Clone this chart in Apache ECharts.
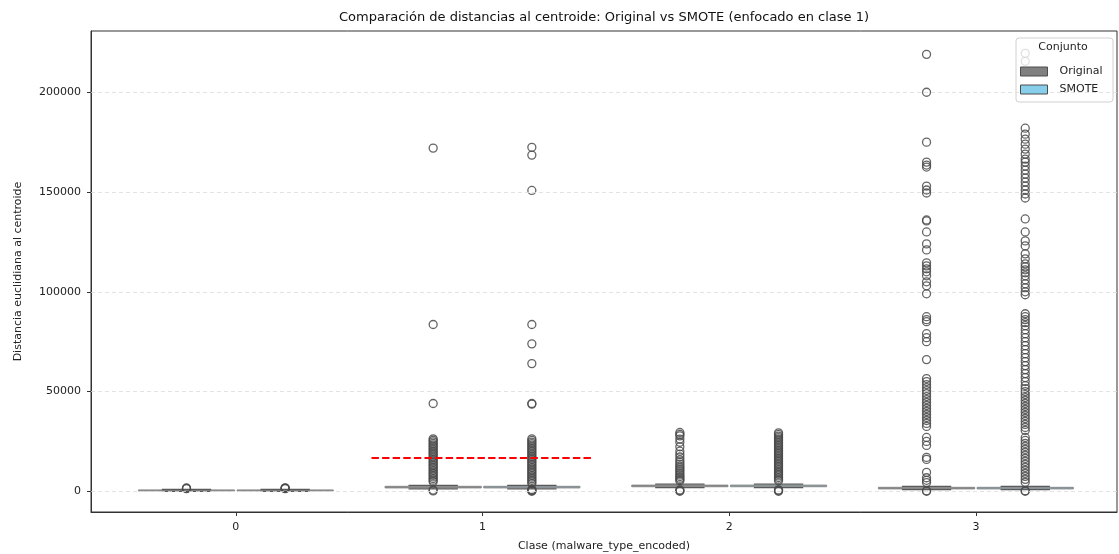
<!DOCTYPE html>
<html><head><meta charset="utf-8">
<script src="https://cdn.jsdelivr.net/npm/echarts@6/dist/echarts.min.js"></script>
<style>html,body{margin:0;padding:0;background:#fff}#c{width:1119px;height:554px}</style>
</head><body><div id="c"></div>
<script>
// ---------- data ----------
const categories = ['0', '1', '2', '3'];
const conjuntos = ['Original', 'SMOTE'];
const yTicks = [0, 50000, 100000, 150000, 200000];
// [whisker low, Q1, median, Q3, whisker high] per class
const boxOriginal = [[0, 200, 400, 700, 1000], [1200, 1700, 2100, 2500, 3000], [1800, 2300, 2700, 3100, 3600], [800, 1200, 1600, 2000, 2500]];
const boxSMOTE = [[0, 200, 400, 700, 1000], [1200, 1700, 2100, 2500, 3000], [1800, 2300, 2700, 3100, 3600], [800, 1200, 1600, 2000, 2500]];

const outOriginal0 = [1300, 1500, 1700];
const outSMOTE0 = [1300, 1450, 1600, 1750];
const outOriginal1 = [172000, 83600, 44000, 26300, 25600, 24800, 24000, 23200, 22400, 21600, 20800, 20000, 19200, 18400, 17600, 16800, 16000, 15200, 14400, 13600, 12800, 12000, 11200, 10400, 9600, 8800, 8000, 7200, 6400, 5600, 4800, 600, 200];
const outSMOTE1 = [172400, 168500, 150800, 83600, 73900, 64000, 44000, 43700, 26300, 25500, 24700, 23900, 23100, 22300, 21500, 20700, 19900, 19100, 18300, 17500, 16700, 15900, 15100, 14300, 13500, 12700, 11900, 11100, 10300, 9500, 8700, 7900, 7100, 6300, 5500, 4700, 3900, 900, 600, 300, 0];
const outOriginal2 = [29500, 28600, 27800, 26200, 24600, 22300, 20100, 18600, 17200, 15800, 14700, 13600, 12600, 11700, 10800, 9900, 9000, 8200, 7400, 6600, 5900, 5300, 700, 300, 0];
const outSMOTE2 = [29300, 28500, 27700, 26900, 26100, 25300, 24500, 23700, 22900, 22100, 21300, 20500, 19700, 18900, 18100, 17300, 16500, 15700, 14900, 14100, 13300, 12500, 11700, 10900, 10100, 9300, 8500, 7700, 6900, 6100, 5300, 700, 350, 0];
const outOriginal3 = [219000, 200000, 175000, 165000, 163500, 162500, 153000, 151000, 149500, 136000, 135500, 130000, 124000, 121000, 114500, 113000, 111500, 110000, 108000, 105000, 103000, 99000, 87500, 86000, 85000, 79000, 77000, 75000, 66000, 56500, 55000, 53500, 52000, 50500, 49000, 47500, 46000, 44500, 43000, 41500, 40000, 38500, 37000, 35500, 34000, 32500, 27000, 25000, 23000, 17000, 16000, 9500, 6800, 5500, 4400, 300, 0];
const outSMOTE3 = [219500, 215500, 182000, 179000, 176500, 174000, 171500, 169000, 166500, 165000, 163000, 161000, 159000, 157000, 155000, 153000, 151000, 149000, 147000, 136500, 130000, 125500, 123000, 119000, 116500, 114000, 112500, 111000, 109500, 108000, 106000, 104000, 102000, 100000, 98500, 89000, 87500, 86000, 84500, 83000, 81000, 79000, 77000, 75000, 73000, 71000, 69000, 67000, 65000, 63000, 61000, 59000, 57000, 55000, 53000, 51500, 50000, 48500, 47000, 45500, 44000, 42500, 41000, 39500, 38000, 36500, 35000, 33500, 32000, 30500, 27000, 25500, 24000, 22500, 21000, 19500, 18000, 16500, 15000, 13500, 12000, 10500, 9000, 7500, 6000, 4500, 300, 0];
const umbralClase1 = [16700];

// ---------- layout / style constants ----------
const hueOffset = [-0.2, 0.2];
const boxHalf = 0.195;
const capHalf = 0.1;
const FONT = 'DejaVu Sans';
const outliersOriginal = [outOriginal0, outOriginal1, outOriginal2, outOriginal3];
const outliersSMOTE = [outSMOTE0, outSMOTE1, outSMOTE2, outSMOTE3];

function boxSeries(name, boxes, hue, fill) {
  return {
    type: 'custom', name: name, z: 3,
    itemStyle: { color: fill },
    data: boxes.map((b, i) => [i].concat(b)),
    encode: { x: 0, y: [1, 2, 3, 4, 5] },
    renderItem: function (params, api) {
      const c = api.value(0) + hueOffset[hue];
      const lo = api.value(1), q1 = api.value(2), md = api.value(3), q3 = api.value(4), hi = api.value(5);
      const a = api.coord([c - boxHalf, q3]);
      const b = api.coord([c + boxHalf, q1]);
      const m1 = api.coord([c - boxHalf, md]), m2 = api.coord([c + boxHalf, md]);
      const pLo = api.coord([c, lo]), pQ1 = api.coord([c, q1]), pQ3 = api.coord([c, q3]), pHi = api.coord([c, hi]);
      const cl1 = api.coord([c - capHalf, lo]), cl2 = api.coord([c + capHalf, lo]);
      const ch1 = api.coord([c - capHalf, hi]), ch2 = api.coord([c + capHalf, hi]);
      const ls = { stroke: '#5a5a5a', lineWidth: 1.3 };
      return { type: 'group', children: [
        { type: 'rect', shape: { x: a[0], y: a[1], width: b[0] - a[0], height: b[1] - a[1] },
          style: { fill: fill, stroke: '#8a8a8a', lineWidth: 1 } },
        { type: 'line', shape: { x1: m1[0], y1: m1[1], x2: m2[0], y2: m2[1] }, style: { stroke: '#8a8a8a', lineWidth: 1 } },
        { type: 'line', shape: { x1: pLo[0], y1: pLo[1], x2: pQ1[0], y2: pQ1[1] }, style: ls },
        { type: 'line', shape: { x1: pQ3[0], y1: pQ3[1], x2: pHi[0], y2: pHi[1] }, style: ls },
        { type: 'line', shape: { x1: cl1[0], y1: cl1[1], x2: cl2[0], y2: cl2[1] }, style: ls },
        { type: 'line', shape: { x1: ch1[0], y1: ch1[1], x2: ch2[0], y2: ch2[1] }, style: ls }
      ] };
    }
  };
}

function outlierSeries(name, lists, hue) {
  const data = [];
  lists.forEach((vals, i) => vals.forEach(v => data.push([i + hueOffset[hue], v])));
  return {
    type: 'scatter', name: name, z: 4, symbol: 'circle', symbolSize: 8,
    itemStyle: { color: 'rgba(0,0,0,0)', borderColor: '#4a4a4a', borderWidth: 1.3, opacity: 0.85 },
    emphasis: { disabled: true },
    data: data
  };
}

const chart = echarts.init(document.getElementById('c'), null, { renderer: 'canvas' });
const option = {
  animation: false,
  backgroundColor: '#fff',
  textStyle: { fontFamily: FONT },
  grid: { left: 91, right: 2, top: 31, bottom: 42, show: true, borderColor: '#333', borderWidth: 1, containLabel: false, outerBoundsMode: 'none' },
  xAxis: {
    type: 'value', min: -0.587, max: 3.572,
    name: 'Clase (malware_type_encoded)', nameLocation: 'middle', nameGap: 29,
    nameTextStyle: { fontFamily: FONT, fontSize: 11, color: '#222' },
    axisLine: { show: true, onZero: false, lineStyle: { color: '#333', width: 1 } },
    axisTick: { show: true, length: 4, customValues: categories.map((c, i) => i), lineStyle: { color: '#333' } },
    axisLabel: { customValues: categories.map((c, i) => i), formatter: v => categories[Math.round(v)], fontFamily: FONT, fontSize: 11, color: '#222', margin: 10 },
    splitLine: { show: false }
  },
  yAxis: {
    type: 'value', min: -10370, max: 230700,
    name: 'Distancia euclidiana al centroide', nameLocation: 'middle', nameGap: 67, nameRotate: 90,
    nameTextStyle: { fontFamily: FONT, fontSize: 11, color: '#222' },
    axisLine: { show: true, onZero: false, lineStyle: { color: '#333', width: 1 } },
    axisTick: { show: true, length: 4, customValues: yTicks, lineStyle: { color: '#333' } },
    axisLabel: { customValues: yTicks, formatter: v => String(Math.round(v)), fontFamily: FONT, fontSize: 11, color: '#222', margin: 10 },
    splitLine: { show: false }
  },
  legend: {
    orient: 'vertical', left: 1015, top: 61, itemWidth: 27, itemHeight: 9, itemGap: 7,
    selectedMode: false, icon: 'rect', z: 6,
    textStyle: { fontFamily: FONT, fontSize: 11, color: '#222', padding: [0, 0, 0, 7] },
    data: [
      { name: 'Original', itemStyle: { color: '#808080', borderColor: '#4d4d4d', borderWidth: 1 } },
      { name: 'SMOTE', itemStyle: { color: '#87ceeb', borderColor: '#4d4d4d', borderWidth: 1 } }
    ]
  },
  graphic: [
    { type: 'text', x: 604, y: 18, z: 10, style: { text: 'Comparación de distancias al centroide: Original vs SMOTE (enfocado en clase 1)', font: '13px "DejaVu Sans"', fill: '#111', textAlign: 'center', textVerticalAlign: 'middle' } },
    { type: 'rect', x: 1016, y: 38, z: 5, shape: { width: 97, height: 64, r: 3 }, style: { fill: 'rgba(255,255,255,0.8)', stroke: '#d0d0d0', lineWidth: 1 } },
    { type: 'text', x: 1063, y: 47, z: 6, style: { text: 'Conjunto', font: '11px "DejaVu Sans"', fill: '#222', textAlign: 'center', textVerticalAlign: 'middle' } }
  ],
  series: [
    {
      type: 'line', name: 'grid', data: [], z: 1, silent: true,
      markLine: {
        silent: true, symbol: 'none', label: { show: false },
        lineStyle: { color: '#dcdcdc', type: [4, 3], width: 0.8 },
        data: yTicks.map(v => ({ yAxis: v }))
      }
    },
    boxSeries('Original', boxOriginal, 0, '#808080'),
    boxSeries('SMOTE', boxSMOTE, 1, '#87ceeb'),
    outlierSeries('Original atípicos', outliersOriginal, 0),
    outlierSeries('SMOTE atípicos', outliersSMOTE, 1),
    {
      type: 'line', name: 'umbral', z: 5, symbol: 'none', silent: true,
      lineStyle: { color: '#ff0000', width: 2, type: [7.4, 3.2] },
      data: [[1 - 0.45, umbralClase1[0]], [1 + 0.45, umbralClase1[0]]]
    }
  ]
};
chart.setOption(option);
</script>
</body></html>
